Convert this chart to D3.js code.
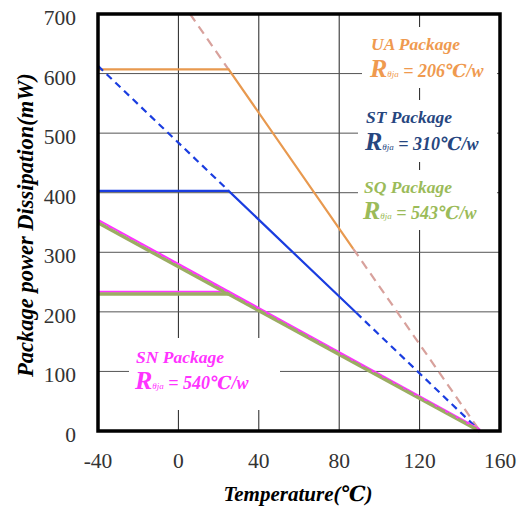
<!DOCTYPE html>
<html><head><meta charset="utf-8">
<script src="https://cdn.jsdelivr.net/npm/d3@7"></script>
<style>body{margin:0;background:#fff}svg{display:block}
text{font-family:"Liberation Serif","DejaVu Serif",serif}
</style>
</head><body>
<svg id="c" width="523" height="508"></svg>
<script>
const xTicks = [-40, 0, 40, 80, 120, 160];
const yTicks = [0, 100, 200, 300, 400, 500, 600, 700];
const Tmax = 150;   // max junction temperature (°C)
const Tamb = 25;    // knee temperature
const packages = ["UA", "ST", "SQ", "SN"];
const rthja = [206, 310, 543, 540];          // °C/W
const plateau = [607, 403, 230, 233];         // mW, flat segment value
const solidEnd = [87, 88.5, 150, 150];        // °C where solid sloped segment ends
const colors = {UA:"#ef9a4f", ST:"#26467f", SQ:"#9bbb59", SN:"#ff33ff"};
const lineColors = {UA:"#e8994f", ST:"#1a3de0", SQ:"#9bad62", SN:"#ff33ff"};
const dashColors = {UA:"#d8a19c", ST:"#1a3de0"};

const svg = d3.select("#c");
const x = d3.scaleLinear().domain([-40,160]).range([98,500]);
const y = d3.scaleLinear().domain([0,700]).range([431,14]);
const P = (k,T) => (Tmax - T) * 1000 / rthja[k];

// gridlines
const g = svg.append("g");
g.selectAll("line.v").data(xTicks.filter(t=>t>-40&&t<160)).join("line")
  .attr("x1",d=>x(d)).attr("x2",d=>x(d)).attr("y1",y(700)).attr("y2",y(0))
  .attr("stroke","#222").attr("stroke-width",1);
g.selectAll("line.h").data(yTicks.filter(t=>t>0&&t<700)).join("line")
  .attr("x1",x(-40)).attr("x2",x(160)).attr("y1",d=>y(d)).attr("y2",d=>y(d))
  .attr("stroke","#555").attr("stroke-width",1);

// label backgrounds (white boxes hiding gridlines)
const boxes = [[362,27,135,61],[358,100,139,62],[358,170,139,60],[129,338,151,72]];
svg.append("g").selectAll("rect").data(boxes).join("rect")
  .attr("x",d=>d[0]).attr("y",d=>d[1]).attr("width",d=>d[2]).attr("height",d=>d[3]).attr("fill","#fff");

const line = d3.line().x(d=>x(d[0])).y(d=>y(d[1]));
const L = svg.append("g").attr("fill","none");

// UA
const ua = 0;
L.append("path").attr("d", line([[Tmax - 700*rthja[ua]/1000, 700],[Tamb, P(ua,Tamb)]]))
  .attr("stroke",dashColors.UA).attr("stroke-width",2.2).attr("stroke-dasharray","9,6");
L.append("path").attr("d", line([[solidEnd[ua], P(ua,solidEnd[ua])],[Tmax,0]]))
  .attr("stroke",dashColors.UA).attr("stroke-width",2.2).attr("stroke-dasharray","9,6");
L.append("path").attr("d", line([[-40,plateau[ua]],[Tamb,plateau[ua]],[solidEnd[ua],P(ua,solidEnd[ua])]]))
  .attr("stroke",lineColors.UA).attr("stroke-width",2.2);

// ST
const st = 1;
L.append("path").attr("d", line([[-40,P(st,-40)],[Tamb,P(st,Tamb)]]))
  .attr("stroke",dashColors.ST).attr("stroke-width",2.2).attr("stroke-dasharray","7,5");
L.append("path").attr("d", line([[solidEnd[st], P(st,solidEnd[st])],[Tmax,0]]))
  .attr("stroke",dashColors.ST).attr("stroke-width",2.2).attr("stroke-dasharray","7,5");
L.append("path").attr("d", line([[-40,plateau[st]],[Tamb,plateau[st]],[solidEnd[st],P(st,solidEnd[st])]]))
  .attr("stroke",lineColors.ST).attr("stroke-width",2.2);

// SN (magenta) under, SQ (green) over, then magenta dashes
const sq = 2, sn = 3;
L.append("path").attr("d", line([[-40,P(sn,-40)],[Tmax,0]]))
  .attr("stroke",lineColors.SN).attr("stroke-width",2).attr("transform","translate(0,-1.6)");
L.append("path").attr("d", line([[-40,plateau[sn]],[Tamb+0.5,plateau[sn]]]))
  .attr("stroke",lineColors.SN).attr("stroke-width",2).attr("transform","translate(0,-0.4)");
L.append("path").attr("d", line([[-40,plateau[sq]],[Tamb,plateau[sq]]]))
  .attr("stroke",lineColors.SQ).attr("stroke-width",3.4);
L.append("path").attr("d", line([[-40,P(sq,-40)],[Tmax,0]]))
  .attr("stroke",lineColors.SQ).attr("stroke-width",3.4).attr("transform","translate(0,0.3)");
L.append("path").attr("d", line([[-40,P(sn,-40)],[Tmax,0]]))
  .attr("stroke",lineColors.SN).attr("stroke-width",1.3).attr("stroke-dasharray","3,9").attr("transform","translate(0,-0.8)");

// frame
svg.append("rect").attr("x",x(-40)).attr("y",y(700)).attr("width",x(160)-x(-40)).attr("height",y(0)-y(700))
  .attr("fill","none").attr("stroke","#000").attr("stroke-width",3.5);

// tick labels
svg.append("g").selectAll("text").data(xTicks).join("text")
  .attr("x",d=>x(d)).attr("y",468).attr("text-anchor","middle")
  .attr("font-size",21.5).attr("fill","#333").text(d=>d);
svg.append("g").selectAll("text").data(yTicks).join("text")
  .attr("x",76).attr("y",d=>y(d)+11).attr("text-anchor","end")
  .attr("font-size",21.5).attr("fill","#333").text(d=>d);

// axis titles
svg.append("text").attr("x",298).attr("y",501).attr("text-anchor","middle")
  .attr("font-size",21).attr("font-weight","bold").attr("font-style","italic")
  .text("Temperature(℃)");
svg.append("text").attr("transform","translate(33,225) rotate(-90)").attr("text-anchor","middle")
  .attr("font-size",22.5).attr("font-weight","bold").attr("font-style","italic")
  .text("Package power Dissipation(mW)");

// package labels
const labelPos = {UA:[371,50,77], ST:[366,123,150], SQ:[364,193,219], SN:[136,363,389]};
packages.forEach((p,i)=>{
  const [lx,ly1,ly2] = labelPos[p];
  const c = colors[p];
  svg.append("text").attr("x",lx).attr("y",ly1)
    .attr("font-style","italic").attr("font-weight","bold").attr("font-size",17.5).attr("fill",c).text(p + " Package");
  const t2 = svg.append("text").attr("x",lx-1).attr("y",ly2)
    .attr("font-style","italic").attr("font-weight","bold").attr("fill",c);
  t2.append("tspan").attr("font-size",26).text("R");
  t2.append("tspan").attr("font-size",9).attr("font-weight","normal").text("θja");
  t2.append("tspan").attr("font-size",18).text(" = " + rthja[i] + "℃/w");
});
</script>
</body></html>
